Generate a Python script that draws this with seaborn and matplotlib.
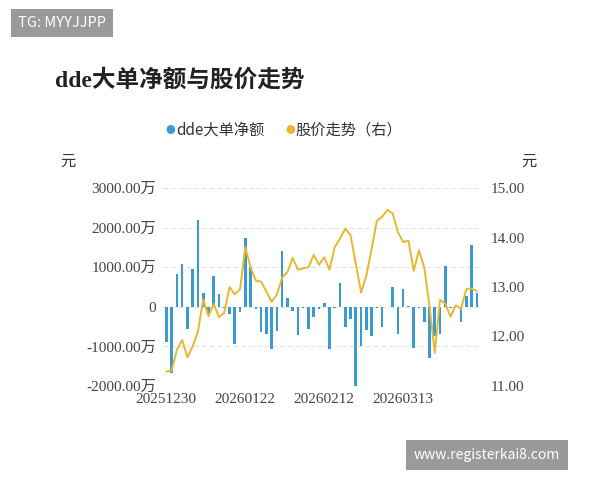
import matplotlib
matplotlib.use("Agg")
import matplotlib.pyplot as plt
import seaborn as sns
import pandas as pd

dde = [-900,-1670,830,1070,-560,950,2200,340,-150,790,330,-30,-190,-940,-130,1730,1010,-60,-630,-680,
       -1060,-620,1410,220,-100,-710,-30,-550,-260,-60,90,-1060,-20,600,-500,-320,-2000,-1000,-590,-740,
       -20,-510,-10,510,-680,440,30,-1030,-40,-380,-1300,-740,-680,1030,-20,-10,-380,280,1560,350]
price = [11.29,11.31,11.73,11.93,11.58,11.80,12.10,12.75,12.41,12.66,12.39,12.48,13.00,12.85,12.96,13.81,13.40,13.13,13.11,12.91,
         12.70,12.85,13.19,13.30,13.59,13.35,13.38,13.40,13.65,13.45,13.60,13.35,13.81,13.98,14.18,14.05,13.47,12.89,13.23,13.77,
         14.34,14.42,14.56,14.49,14.11,13.91,13.94,13.33,13.74,13.40,12.62,11.67,12.74,12.67,12.40,12.63,12.56,12.96,12.97,12.92]
tick_pos = [0, 15, 30, 45]
tick_labels = ["20251230", "20260122", "20260212", "20260313"]
left_ticks = [-2000, -1000, 0, 1000, 2000, 3000]
right_ticks = [11, 12, 13, 14, 15]

sns.set_theme(style="white")
plt.rcParams['font.family'] = ['Noto Sans CJK SC', 'DejaVu Sans']
serif = ['Liberation Serif', 'Noto Sans CJK SC']

df = pd.DataFrame({"i": range(len(dde)), "dde": dde, "price": price})
blue, gold = "#3a9bd0", "#e6b830"

fig = plt.figure(figsize=(6, 4.8), dpi=100)
ax = fig.add_axes([0.272, 0.196, 0.528, 0.412])
ax.bar(df["i"], df["dde"], width=0.5, color=blue, linewidth=0)
ax.set_ylim(-2000, 3000)
ax.set_xlim(-0.6, len(dde) - 0.4)
ax.set_yticks(left_ticks)
ax.set_yticklabels([("0" if v == 0 else f"{v:.2f}万") for v in left_ticks], fontsize=11, color="#444", family=serif)
ax.set_xticks(tick_pos)
ax.set_xticklabels(tick_labels, fontsize=11, color="#444", family=serif)
ax.grid(axis="y", linestyle=(0, (4, 3)), color="#e3e3e3", lw=0.8)
for s in ax.spines.values():
    s.set_visible(False)
ax.tick_params(length=0, pad=5)

ax2 = ax.twinx()
sns.lineplot(data=df, x="i", y="price", ax=ax2, color=gold, lw=1.4)
ax2.set_ylim(11, 15)
ax2.set_yticks(right_ticks)
ax2.set_yticklabels([f"{v:.2f}" for v in right_ticks], fontsize=11, color="#444", family=serif)
ax2.set_ylabel(""); ax2.set_xlabel("")
for s in ax2.spines.values():
    s.set_visible(False)
ax2.tick_params(length=0, pad=8)

fig.text(0.092, 0.833, "dde大单净额与股价走势", fontsize=17, fontweight="bold", color="#222", va="center",
         family=['Liberation Serif', 'Noto Sans CJK SC'])
fig.text(0.275, 0.73, "●", fontsize=7, color=blue, va="center")
fig.text(0.293, 0.73, "dde大单净额", fontsize=11, color="#333", va="center")
fig.text(0.475, 0.73, "●", fontsize=7, color=gold, va="center")
fig.text(0.493, 0.73, "股价走势（右）", fontsize=11, color="#333", va="center")
fig.text(0.1, 0.665, "元", fontsize=11, color="#333", va="center")
fig.text(0.868, 0.665, "元", fontsize=11, color="#333", va="center")
fig.text(0.03, 0.952, "TG: MYYJJPP", fontsize=10.5, color="white", va="center",
         bbox=dict(boxstyle="square,pad=0.45", fc="#9a9a9a", ec="none"))
fig.text(0.69, 0.052, "www.registerkai8.com", fontsize=10, color="white", va="center",
         bbox=dict(boxstyle="square,pad=0.55", fc="#9a9a9a", ec="none"))
fig.savefig("out.png", dpi=100)
